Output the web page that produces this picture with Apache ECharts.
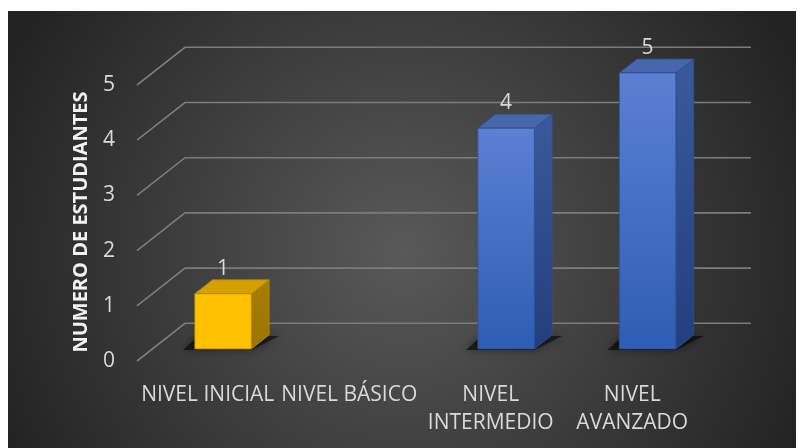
<!DOCTYPE html>
<html>
<head>
<meta charset="utf-8">
<script src="https://cdn.jsdelivr.net/npm/echarts@6/dist/echarts.min.js"></script>
<style>
html,body{margin:0;padding:0;background:#ffffff;}
#chart{width:797px;height:448px;}
</style>
</head>
<body>
<div id="chart"></div>
<script>
// ---- data ----
const categories = ['NIVEL INICIAL', 'NIVEL BÁSICO', 'NIVEL\nINTERMEDIO', 'NIVEL\nAVANZADO'];
const values = [1, null, 4, 5];
const yTicks = [0, 1, 2, 3, 4, 5];
const yAxisTitle = 'NUMERO DE ESTUDIANTES';

// ---- styles ----
const palettes = [
  { front: ['#FFC000', '#FFC000'], top: '#D4A000', side: ['#A87D00', '#9C7400'], stroke: '#B08600' },
  { front: ['#5B80D2', '#2E5DB5'], top: '#4866AC', side: ['#3A5A9C', '#223F7D'], stroke: '#2F4F8F' },
  { front: ['#5B80D2', '#2E5DB5'], top: '#4866AC', side: ['#3A5A9C', '#223F7D'], stroke: '#2F4F8F' },
  { front: ['#5B80D2', '#2E5DB5'], top: '#4866AC', side: ['#3A5A9C', '#223F7D'], stroke: '#2F4F8F' }
];
const DX = 48, DY = -37.7;      // depth of the 3D floor/walls
const F0 = 0.32, F1 = 0.69;     // bar front/back depth fractions
const BAR_W = 0.40;             // fraction of band width

const chart = echarts.init(document.getElementById('chart'), null, { renderer: 'canvas' });

function lin(c0, c1) {
  return { type: 'linear', x: 0, y: 0, x2: 0, y2: 1, colorStops: [{ offset: 0, color: c0 }, { offset: 1, color: c1 }] };
}

const option = {
  animation: false,
  backgroundColor: 'transparent',
  graphic: [
    {
      type: 'rect', z: -10, silent: true,
      shape: { x: 8, y: 11, width: 788, height: 437 },
      style: {
        fill: {
          type: 'radial', x: 0.5, y: 0.55, r: 1.0,
          colorStops: [{ offset: 0, color: '#595959' }, { offset: 1, color: '#232323' }]
        }
      }
    },
    {
      type: 'text', x: 81, y: 222, rotation: Math.PI / 2, silent: true,
      style: {
        text: yAxisTitle, fill: '#f2f2f2', font: 'bold 20px "Open Sans"',
        align: 'center', verticalAlign: 'middle'
      }
    }
  ],
  grid: { left: 137, right: 94, top: 85, bottom: 87, containLabel: false },
  xAxis: {
    type: 'category', data: categories,
    axisLine: { show: false }, axisTick: { show: false }, splitLine: { show: false },
    axisLabel: {
      color: '#d9d9d9', fontFamily: 'Open Sans', fontSize: 21, lineHeight: 28,
      margin: 20, interval: 0
    }
  },
  yAxis: {
    type: 'value', min: 0, max: 5, interval: 1,
    axisLine: { show: false }, axisTick: { show: false }, splitLine: { show: false },
    axisLabel: { color: '#d9d9d9', fontFamily: 'Open Sans', fontSize: 21, margin: 22 }
  },
  series: [
    {
      type: 'custom', name: 'grid3d', silent: true, clip: false, z: 1,
      data: yTicks.map(v => [0, v]),
      encode: { x: 0, y: 1 },
      renderItem: function (params, api) {
        const cs = params.coordSys;
        const y = api.coord([0, api.value(1)])[1];
        return {
          type: 'polyline',
          shape: { points: [[cs.x, y], [cs.x + DX, y + DY], [cs.x + cs.width + DX, y + DY]] },
          style: { stroke: '#7c7c7c', lineWidth: 1.6, fill: null }
        };
      }
    },
    {
      type: 'custom', name: 'bars', clip: false, z: 2,
      data: values.map((v, i) => [i, v == null ? '-' : v]),
      encode: { x: 0, y: 1 },
      renderItem: function (params, api) {
        const i = api.value(0), v = api.value(1);
        if (v == null || isNaN(v)) return null;
        const top = api.coord([i, v]);
        const base = api.coord([i, 0]);
        const band = api.size([1, 0])[0];
        const w = band * BAR_W;
        const cx = top[0] + F0 * DX;
        const yb = base[1] + F0 * DY;
        const yt = top[1] + F0 * DY;
        const xl = cx - w / 2, xr = cx + w / 2;
        const ddx = (F1 - F0) * DX, ddy = (F1 - F0) * DY;
        const p = palettes[i];
        return {
          type: 'group',
          children: [
            {
              type: 'polygon',
              shape: { points: [[xl - 12, yb + 1], [xr, yb + 1], [xr + ddx + 10, yb + ddy + 1], [xl + ddx - 14, yb + ddy + 1]] },
              style: { fill: 'rgba(0,0,0,0.55)', shadowBlur: 8, shadowColor: 'rgba(0,0,0,0.8)' }
            },
            {
              type: 'polygon',
              shape: { points: [[xr, yt], [xr + ddx, yt + ddy], [xr + ddx, yb + ddy], [xr, yb]] },
              style: { fill: lin(p.side[0], p.side[1]), stroke: p.stroke, lineWidth: 0.8 }
            },
            {
              type: 'polygon',
              shape: { points: [[xl, yt], [xl + ddx, yt + ddy], [xr + ddx, yt + ddy], [xr, yt]] },
              style: { fill: p.top, stroke: p.stroke, lineWidth: 0.8 }
            },
            {
              type: 'rect',
              shape: { x: xl, y: yt, width: w, height: yb - yt },
              style: { fill: lin(p.front[0], p.front[1]), stroke: p.stroke, lineWidth: 0.8 }
            },
            {
              type: 'text',
              x: cx, y: yt - 25,
              style: {
                text: String(v), fill: '#d9d9d9', font: '21px "Open Sans"',
                align: 'center', verticalAlign: 'middle'
              }
            }
          ]
        };
      }
    }
  ]
};
chart.setOption(option);
</script>
</body>
</html>
